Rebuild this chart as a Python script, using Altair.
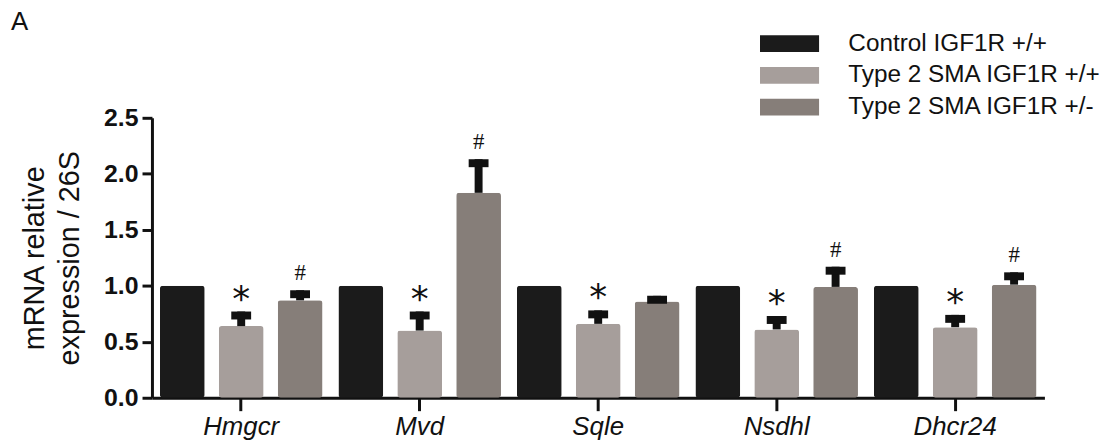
import altair as alt
import pandas as pd

genes = ["Hmgcr", "Mvd", "Sqle", "Nsdhl", "Dhcr24"]
groups = ["Control IGF1R +/+", "Type 2 SMA IGF1R +/+", "Type 2 SMA IGF1R +/-"]
colors = ["#1b1b1b", "#a69e9b", "#867e79"]

control_mean = [1.0, 1.0, 1.0, 1.0, 1.0]
control_err = [0.0, 0.0, 0.0, 0.0, 0.0]
sma_wt_mean = [0.64, 0.60, 0.66, 0.61, 0.63]
sma_wt_err = [0.13, 0.17, 0.12, 0.12, 0.11]
sma_het_mean = [0.87, 1.83, 0.86, 0.99, 1.01]
sma_het_err = [0.09, 0.30, 0.05, 0.18, 0.11]

control_sig = ["", "", "", "", ""]
sma_wt_sig = ["*", "*", "*", "*", "*"]
sma_het_sig = ["#", "#", "", "#", "#"]

y_ticks = [0.0, 0.5, 1.0, 1.5, 2.0, 2.5]
panel_label = "A"

rows = []
for grp, means, errs, sigs in [
    (groups[0], control_mean, control_err, control_sig),
    (groups[1], sma_wt_mean, sma_wt_err, sma_wt_sig),
    (groups[2], sma_het_mean, sma_het_err, sma_het_sig),
]:
    for g, m, e, s in zip(genes, means, errs, sigs):
        rows.append({"gene": g, "group": grp, "mean": m, "err": e,
                     "upper": m + e, "sig": s})
df = pd.DataFrame(rows)

FONT = "Liberation Sans"

x_enc = alt.X("gene:N", sort=genes,
              scale=alt.Scale(paddingInner=0, paddingOuter=0),
              axis=alt.Axis(title=None, labelFontStyle="italic", labelFontSize=26,
                            labelPadding=3, tickSize=13, tickWidth=3,
                            domainWidth=3, labelAngle=0))
xo_enc = alt.XOffset("group:N", sort=groups,
                     scale=alt.Scale(paddingInner=0.24, paddingOuter=0.135))
y_scale = alt.Scale(domain=[0, 2.5], nice=False)

base = alt.Chart(df)

bars = base.mark_bar(cornerRadius=3).encode(
    x=x_enc,
    xOffset=xo_enc,
    y=alt.Y("mean:Q", scale=y_scale,
            axis=alt.Axis(values=y_ticks, format=".1f",
                          title=["mRNA relative", "expression / 26S"],
                          titleFontSize=29, titleFontWeight="normal",
                          titleLineHeight=35, titlePadding=19,
                          labelFontSize=25, labelFontWeight="bold",
                          labelPadding=4, tickSize=10, tickWidth=3,
                          domainWidth=3, grid=False)),
    color=alt.Color("group:N", sort=groups,
                    scale=alt.Scale(domain=groups, range=colors),
                    legend=alt.Legend(orient="none", legendX=630, legendY=-87,
                                      title=None,
                                      symbolType="M-3.5,-1L3.5,-1L3.5,1L-3.5,1Z",
                                      symbolSize=289, symbolStrokeWidth=0,
                                      symbolOpacity=1, labelLimit=0,
                                      labelFontSize=24.5, labelOffset=47,
                                      rowPadding=7, labelColor="#111")),
)

err_base = base.transform_filter("datum.err > 0")

stems = err_base.mark_rule(color="#111", strokeWidth=8, opacity=1).encode(
    x=alt.X("gene:N", sort=genes),
    xOffset=xo_enc,
    y=alt.Y("mean:Q", scale=y_scale),
    y2="upper:Q",
)

caps = err_base.mark_tick(color="#111", thickness=8, size=20, yOffset=4,
                          opacity=1).encode(
    x=alt.X("gene:N", sort=genes),
    xOffset=xo_enc,
    y=alt.Y("upper:Q", scale=y_scale),
)

stars = base.transform_filter("datum.sig == '*'").mark_text(
    fontSize=36, baseline="alphabetic", dy=-1, color="#111",
    font="DejaVu Sans", fontWeight="normal"
).encode(
    x=alt.X("gene:N", sort=genes),
    xOffset=xo_enc,
    y=alt.Y("upper:Q", scale=y_scale),
    text="sig:N",
)

hashes = base.transform_filter("datum.sig == '#'").mark_text(
    fontSize=23, baseline="alphabetic", dy=-10, color="#111",
    font="Liberation Serif"
).encode(
    x=alt.X("gene:N", sort=genes),
    xOffset=xo_enc,
    y=alt.Y("upper:Q", scale=y_scale),
    text="sig:N",
)

label = alt.Chart(pd.DataFrame({"t": [panel_label]})).mark_text(
    fontSize=26, align="left", baseline="alphabetic", color="#111", font=FONT
).encode(text="t:N", x=alt.value(-142), y=alt.value(-88))

chart = alt.layer(bars, stems, caps, stars, hashes, label).properties(
    width=899, height=282,
    autosize=alt.AutoSizeParams(type="none"),
    padding={"left": 145, "top": 109, "right": 58, "bottom": 49},
).configure(font=FONT).configure_axis(
    domainColor="#111", tickColor="#111", labelColor="#111", titleColor="#111",
).configure_view(stroke=None)

chart.save("out.html", embed_options={"renderer": "svg", "actions": False})
